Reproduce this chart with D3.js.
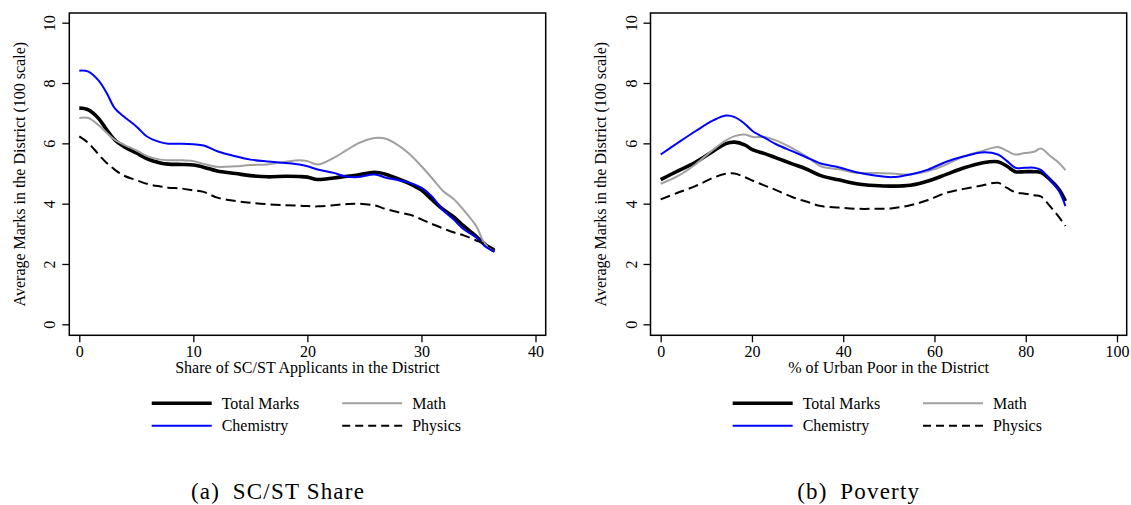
<!DOCTYPE html>
<html><head><meta charset="utf-8">
<script src="https://cdn.jsdelivr.net/npm/d3@7"></script>
<style>
html,body{margin:0;padding:0;background:#fff;}
svg{display:block;}
text{font-family:"Liberation Serif","Times New Roman",serif;fill:#000;}
</style></head>
<body>
<svg id="chart" width="1131" height="505"></svg>
<script>
// ---------- Data (panel a: SC/ST share) ----------
const scstX     = [0,0.8,1.7,2.4,3.1,3.9,5.0,6.0,7.1,7.8,9.0,10.0,10.9,12.1,13.7,15.0,16.5,18.1,19.3,20.0,20.9,22.3,23.3,24.4,25.9,26.9,28.1,29.0,30.0,30.9,31.9,32.8,33.7,34.8,35.6,36.4];
const scstTotal = [7.17,7.11,6.82,6.45,6.12,5.90,5.68,5.48,5.35,5.31,5.30,5.28,5.21,5.08,5.00,4.93,4.89,4.91,4.90,4.88,4.80,4.85,4.90,4.95,5.04,4.97,4.80,4.66,4.45,4.14,3.81,3.57,3.26,2.92,2.64,2.43];
const scstMath  = [6.84,6.84,6.60,6.35,6.12,5.96,5.77,5.57,5.46,5.44,5.44,5.41,5.32,5.22,5.24,5.28,5.30,5.39,5.44,5.41,5.30,5.52,5.74,5.99,6.18,6.15,5.90,5.63,5.24,4.86,4.42,4.16,3.79,3.26,2.65,2.49];
const scstChem  = [8.41,8.38,8.08,7.67,7.17,6.89,6.56,6.21,6.04,5.99,5.99,5.97,5.93,5.74,5.57,5.46,5.40,5.35,5.30,5.24,5.13,5.02,4.91,4.88,4.97,4.86,4.77,4.69,4.53,4.25,3.78,3.48,3.15,2.88,2.58,2.40];
const scstPhys  = [6.23,6.01,5.63,5.35,5.13,4.93,4.78,4.65,4.57,4.53,4.50,4.44,4.39,4.20,4.09,4.03,3.98,3.95,3.93,3.92,3.91,3.95,3.98,4.00,3.94,3.82,3.70,3.63,3.48,3.33,3.18,3.05,2.95,2.78,2.65,2.49];

// ---------- Data (panel b: poverty) ----------
const povX      = [0,3.7,7.6,11.5,14.3,16.2,18.4,20.2,22.8,25.3,28.8,31.9,35.1,39.0,42.9,46.9,50.8,54.7,58.6,62.6,66.5,70.4,73.9,75.9,77.7,79.8,81.8,83.3,85.3,87.3,88.7];
const povTotal  = [4.80,5.08,5.37,5.74,5.99,6.04,5.95,5.78,5.66,5.52,5.32,5.15,4.93,4.79,4.66,4.60,4.58,4.61,4.75,4.97,5.19,5.35,5.39,5.24,5.06,5.06,5.06,5.04,4.80,4.47,4.09];
const povMath   = [4.66,4.91,5.30,5.79,6.10,6.24,6.29,6.21,6.21,6.10,5.84,5.57,5.24,5.14,5.02,5.02,5.00,4.97,5.08,5.30,5.57,5.74,5.88,5.75,5.63,5.68,5.72,5.83,5.59,5.35,5.11];
const povChem   = [5.63,6.01,6.40,6.76,6.92,6.87,6.65,6.40,6.18,5.97,5.74,5.54,5.33,5.21,5.04,4.93,4.88,4.97,5.13,5.39,5.57,5.70,5.63,5.41,5.19,5.19,5.19,5.12,4.80,4.42,3.92];
const povPhys   = [4.14,4.36,4.58,4.86,4.99,5.00,4.88,4.76,4.60,4.45,4.22,4.07,3.92,3.87,3.83,3.83,3.85,3.95,4.12,4.36,4.49,4.60,4.69,4.52,4.38,4.33,4.28,4.24,3.92,3.55,3.26];

// ---------- Ticks / labels ----------
const yTicks = [0,2,4,6,8,10];
const scstXTicks = [0,10,20,30,40];
const povXTicks = [0,20,40,60,80,100];
const yTitle = "Average Marks in the District (100 scale)";
const scstXTitle = "Share of SC/ST Applicants in the District";
const povXTitle = "% of Urban Poor in the District";
const seriesNames = ["Total Marks","Math","Chemistry","Physics"];
const captions = ["(a)\u2002SC/ST Share","(b)\u2002Poverty"];

// ---------- Styles ----------
const styles = {
  "Total Marks": {stroke:"#000000", width:3.6, dash:null, legendDash:null},
  "Math":        {stroke:"#a0a0a0", width:2.0, dash:null, legendDash:null},
  "Chemistry":   {stroke:"#0000ff", width:2.0, dash:null, legendDash:null},
  "Physics":     {stroke:"#000000", width:2.0, dash:"10,5", legendDash:"8,5"}
};

const svg = d3.select("#chart");

function panel(cfg){
  const g = svg.append("g");
  const x = d3.scaleLinear().domain(cfg.xDomain).range(cfg.xRange);
  const y = d3.scaleLinear().domain([0,10]).range([324.3,22.7]);
  const f = cfg.frame;

  // series (draw order: Total, Math, Chemistry, Physics)
  const line = d3.line().x(d=>x(d[0])).y(d=>y(d[1])).curve(d3.curveCatmullRom.alpha(0.5));
  cfg.series.forEach((vals,i)=>{
    const st = styles[seriesNames[i]];
    const pts = cfg.xs.map((xv,j)=>[xv,vals[j]]);
    g.append("path").attr("d",line(pts))
      .attr("fill","none").attr("stroke",st.stroke)
      .attr("stroke-width",st.width)
      .attr("stroke-linejoin","round")
      .attr("stroke-dasharray",st.dash);
  });

  // frame
  g.append("rect").attr("x",f.x0).attr("y",f.y0)
    .attr("width",f.x1-f.x0).attr("height",f.y1-f.y0)
    .attr("fill","none").attr("stroke","#000").attr("stroke-width",1.5);

  // y axis
  const ya = g.append("g").attr("transform",`translate(${f.x0},0)`)
    .call(d3.axisLeft(y).tickValues(yTicks).tickSize(7).tickSizeOuter(0).tickFormat(d3.format("d")));
  ya.attr("font-family","Liberation Serif");
  ya.select(".domain").remove();
  ya.selectAll(".tick line").attr("stroke","#000").attr("stroke-width",1.3);
  ya.selectAll(".tick text").attr("x",null).attr("dy",null)
    .attr("transform","translate(-14,0) rotate(-90)")
    .attr("text-anchor","middle")
    .attr("font-family","Liberation Serif").attr("font-size",16);

  // x axis
  const xa = g.append("g").attr("transform",`translate(0,${f.y1})`)
    .call(d3.axisBottom(x).tickValues(cfg.xTicks).tickSize(7).tickSizeOuter(0).tickFormat(d3.format("d")));
  xa.attr("font-family","Liberation Serif");
  xa.select(".domain").remove();
  xa.selectAll(".tick line").attr("stroke","#000").attr("stroke-width",1.3);
  xa.selectAll(".tick text").attr("y",22).attr("dy",null)
    .attr("font-family","Liberation Serif").attr("font-size",16);

  // titles
  g.append("text").attr("transform",`translate(${f.x0-44.5},${(f.y0+f.y1)/2}) rotate(-90)`)
    .attr("text-anchor","middle").attr("font-size",16).text(yTitle);
  g.append("text").attr("x",(f.x0+f.x1)/2).attr("y",373)
    .attr("text-anchor","middle").attr("font-size",16).text(cfg.xTitle);

  // legend
  const lg = cfg.legend;
  const cols = [lg.c1, lg.c2];
  const rows = [403.3, 425.7];
  seriesNames.forEach((name,i)=>{
    const st = styles[name];
    const cx = cols[i%2], ry = rows[Math.floor(i/2)];
    g.append("line").attr("x1",cx).attr("x2",cx+60).attr("y1",ry).attr("y2",ry)
      .attr("stroke",st.stroke).attr("stroke-width",st.width)
      .attr("stroke-dasharray",st.legendDash);
    g.append("text").attr("x",cx+70).attr("y",ry+5.5).attr("font-size",16).text(name);
  });

  // caption
  g.append("text").attr("x",cfg.capX).attr("y",499)
    .attr("text-anchor","middle")
    .attr("font-family","DejaVu Serif").attr("font-size",23)
    .attr("letter-spacing",1.2)
    .text(cfg.caption);
}

panel({
  xDomain:[0,40], xRange:[79.3,535.5], xTicks:scstXTicks,
  frame:{x0:69.3,x1:545.7,y0:13,y1:335.3},
  xs:scstX, series:[scstTotal,scstMath,scstChem,scstPhys],
  xTitle:scstXTitle,
  legend:{c1:151.7,c2:342.2},
  caption:captions[0], capX:278
});
panel({
  xDomain:[0,100], xRange:[660.7,1117.0], xTicks:povXTicks,
  frame:{x0:650.5,x1:1126.7,y0:13,y1:335.3},
  xs:povX, series:[povTotal,povMath,povChem,povPhys],
  xTitle:povXTitle,
  legend:{c1:732.7,c2:923},
  caption:captions[1], capX:858.7
});
</script>
</body></html>
